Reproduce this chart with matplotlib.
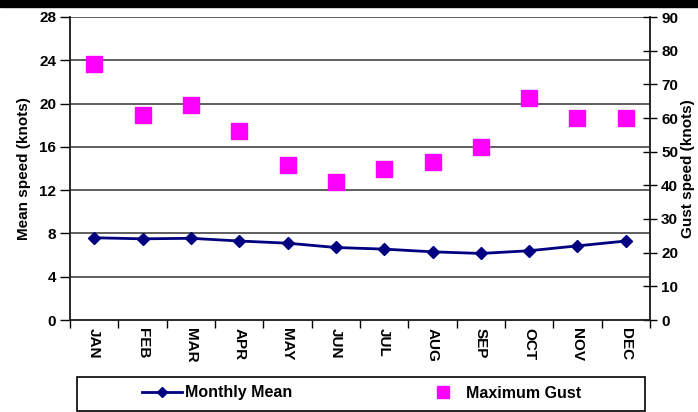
import matplotlib
matplotlib.use('Agg')
import matplotlib.pyplot as plt
from matplotlib.patches import Rectangle

plt.rcParams['font.family'] = ['Liberation Sans', 'DejaVu Sans']
plt.rcParams['font.weight'] = 'bold'
plt.rcParams['axes.labelweight'] = 'bold'

months = ['JAN', 'FEB', 'MAR', 'APR', 'MAY', 'JUN', 'JUL', 'AUG', 'SEP', 'OCT', 'NOV', 'DEC']
monthly_mean = [7.6, 7.5, 7.55, 7.3, 7.1, 6.7, 6.55, 6.3, 6.15, 6.4, 6.85, 7.3]
max_gust = [76, 61, 64, 56, 46, 41, 45, 47, 51.5, 66, 60, 60]

left_ticks = [0, 4, 8, 12, 16, 20, 24, 28]
right_ticks = [0, 10, 20, 30, 40, 50, 60, 70, 80, 90]

fig = plt.figure(figsize=(6.98, 4.12), dpi=100)
ax = fig.add_axes([70 / 698, 92 / 412, 580 / 698, 303 / 412])
ax2 = ax.twinx()

x = list(range(len(months)))

# gridlines at left-axis ticks
for v in left_ticks[1:]:
    ax.axhline(v, color='#333333', lw=1.1, zorder=1)

line_mean, = ax.plot(x, monthly_mean, color='#000080', lw=2, marker='D', markersize=6,
                     label='Monthly Mean', zorder=3)
pts_gust, = ax2.plot(x, max_gust, ls='none', marker='s', markersize=11, color='#FF00FF',
                     markeredgecolor='#FF00FF', label='Maximum Gust', zorder=3)

ax.set_xlim(-0.5, 11.5)
ax.set_ylim(0, 28)
ax2.set_ylim(0, 90)
ax.set_yticks(left_ticks)
ax2.set_yticks(right_ticks)

ax.set_xticks(x)
ax.set_xticklabels(months, rotation=-90, fontsize=11)
ax.tick_params(axis='x', length=0, pad=6)
ax.set_xticks([i + 0.5 for i in range(-1, 12)], minor=True)
ax.tick_params(axis='x', which='minor', length=6, width=1, direction='out')

ax.tick_params(axis='y', length=7, width=1, direction='out', labelsize=11, pad=3)
ax2.tick_params(axis='y', length=10, width=1, direction='inout', labelsize=11, pad=3)

for a in (ax, ax2):
    a.spines['top'].set_visible(False)
    for s in ('left', 'right', 'bottom'):
        a.spines[s].set_color('#222222')
        a.spines[s].set_linewidth(1.1)

ax.set_ylabel('Mean speed (knots)', fontsize=11, labelpad=6)
ax2.set_ylabel('Gust speed (knots)', fontsize=11, rotation=90, labelpad=2)

# legend box spans most of the width under the plot
fig.patches.append(Rectangle((77 / 698, 1 / 412), 568 / 698, 34 / 412,
                             transform=fig.transFigure, fill=False,
                             edgecolor='black', lw=1.2))
fig.legend(handles=[line_mean, pts_gust], loc='center left', ncol=2,
           bbox_to_anchor=(142 / 698, 19 / 412), frameon=False, fontsize=11.5,
           handlelength=2.5, handletextpad=0.2, columnspacing=8.2,
           borderpad=0, borderaxespad=0, markerscale=0.8)

# black bar on top of the page
fig.patches.append(Rectangle((0, 1 - 7 / 412), 1, 7 / 412, transform=fig.transFigure,
                             color='black', zorder=5))

plt.savefig('out.png', dpi=100)
